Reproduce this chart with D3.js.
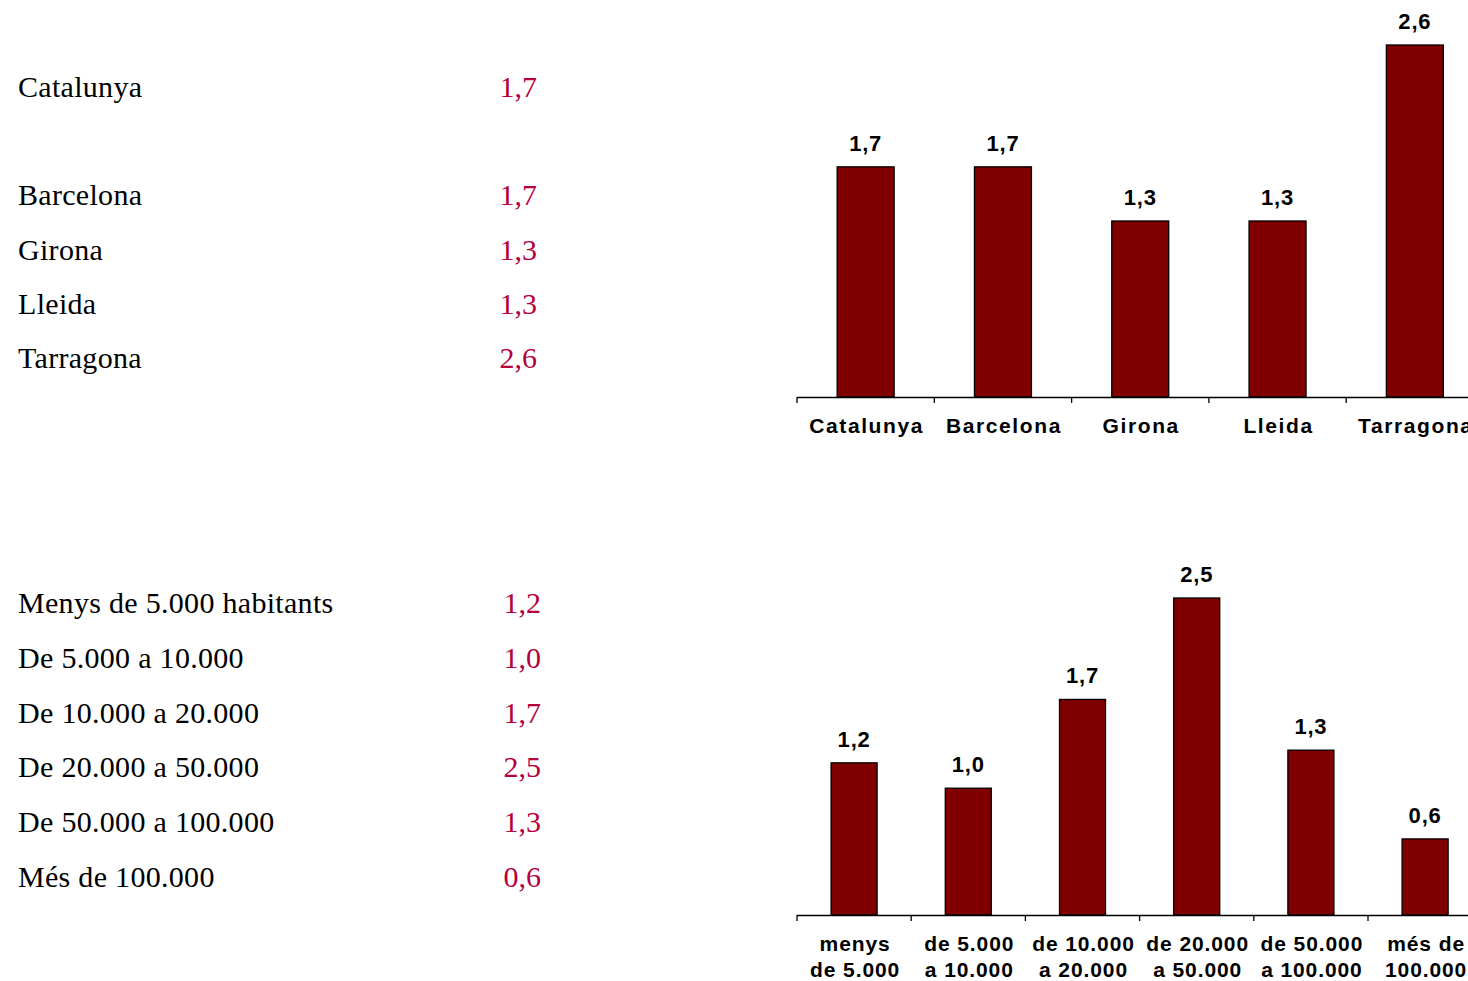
<!DOCTYPE html>
<html>
<head>
<meta charset="utf-8">
<script src="https://cdn.jsdelivr.net/npm/d3@7"></script>
<style>
  body { margin: 0; background: #fff; }
  svg { display: block; }
</style>
</head>
<body>
<svg id="chart" width="1468" height="981"></svg>
<script>
// Two province / municipality-size tables with matching bar charts.

const provinces = ["Catalunya", "Barcelona", "Girona", "Lleida", "Tarragona"];
const provinceValues = [1.7, 1.7, 1.3, 1.3, 2.6];
const provinceRows = [0, 2, 3, 4, 5]; // empty row after Catalunya

const sizeNames = [
  "Menys de 5.000 habitants", "De 5.000 a 10.000", "De 10.000 a 20.000",
  "De 20.000 a 50.000", "De 50.000 a 100.000", "Més de 100.000"
];
const sizeAxisLabels = [
  ["menys", "de 5.000"], ["de 5.000", "a 10.000"], ["de 10.000", "a 20.000"],
  ["de 20.000", "a 50.000"], ["de 50.000", "a 100.000"], ["més de", "100.000"]
];
const sizeValues = [1.2, 1.0, 1.7, 2.5, 1.3, 0.6];

const fmt = v => d3.format(".1f")(v).replace(".", ",");

const svg = d3.select("#chart");
const width = +svg.attr("width");

const barFill = "#800000";
const valueColor = "#b5003c";
const serif = "'Liberation Serif', 'Times New Roman', serif";
const sans = "'Liberation Sans', Arial, sans-serif";

function drawTable(names, values, rows, opts) {
  const y = d3.scaleLinear().domain([0, 1]).range([opts.y0, opts.y0 + opts.rowH]);
  const g = svg.append("g");
  const data = names.map((n, i) => ({ name: n, value: values[i], row: rows[i] }));

  g.selectAll(".tname")
    .data(data)
    .join("text")
    .attr("x", 18)
    .attr("y", d => y(d.row))
    .attr("font-family", serif)
    .attr("font-size", 30)
    .attr("letter-spacing", 0.3)
    .attr("fill", "#000")
    .text(d => d.name);

  g.selectAll(".tval")
    .data(data)
    .join("text")
    .attr("x", opts.valueX)
    .attr("y", d => y(d.row))
    .attr("text-anchor", "end")
    .attr("font-family", serif)
    .attr("font-size", 30)
    .attr("fill", valueColor)
    .text(d => fmt(d.value));
}

function drawBars(cats, values, labels, opts) {
  const x = d3.scaleBand()
    .domain(cats)
    .range([opts.left, opts.left + opts.step * cats.length])
    .padding(0);

  const y = d3.scaleLinear()
    .domain([0, opts.max])
    .range([opts.base, opts.top]);

  const g = svg.append("g");
  const barW = x.bandwidth() * opts.barFrac;
  const data = cats.map((c, i) => ({ cat: c, value: values[i], label: labels[i] }));

  g.selectAll(".bar")
    .data(data)
    .join("rect")
    .attr("x", d => x(d.cat) + (x.bandwidth() - barW) / 2)
    .attr("y", d => y(d.value))
    .attr("width", barW)
    .attr("height", d => y(0) - y(d.value))
    .attr("fill", barFill)
    .attr("stroke", "#000")
    .attr("stroke-width", 1.3);

  g.selectAll(".val")
    .data(data)
    .join("text")
    .attr("x", d => x(d.cat) + x.bandwidth() / 2)
    .attr("y", d => y(d.value) - 16)
    .attr("text-anchor", "middle")
    .attr("font-family", sans)
    .attr("font-weight", "bold")
    .attr("font-size", 22)
    .attr("letter-spacing", 0.8)
    .text(d => fmt(d.value));

  // baseline with ticks at the category boundaries
  g.append("line")
    .attr("x1", x.range()[0])
    .attr("x2", width)
    .attr("y1", y(0) + 0.5)
    .attr("y2", y(0) + 0.5)
    .attr("stroke", "#000")
    .attr("stroke-width", 1.3);

  g.selectAll(".tick")
    .data(cats)
    .join("line")
    .attr("x1", d => x(d))
    .attr("x2", d => x(d))
    .attr("y1", y(0))
    .attr("y2", y(0) + 6)
    .attr("stroke", "#000")
    .attr("stroke-width", 1.3);

  const lab = g.selectAll(".cat")
    .data(data)
    .join("text")
    .attr("x", d => x(d.cat) + x.bandwidth() / 2 + 1)
    .attr("y", opts.labelY)
    .attr("text-anchor", "middle")
    .attr("font-family", sans)
    .attr("font-weight", "bold")
    .attr("font-size", 21)
    .attr("letter-spacing", opts.labelSpacing);

  lab.selectAll("tspan")
    .data(d => d.label.map(t => ({ t, cx: x(d.cat) + x.bandwidth() / 2 + 1 })))
    .join("tspan")
    .attr("x", d => d.cx)
    .attr("dy", (d, i) => i === 0 ? 0 : 26)
    .text(d => d.t);
}

drawTable(provinces, provinceValues, provinceRows, { y0: 97, rowH: 54.2, valueX: 537 });
drawTable(sizeNames, sizeValues, d3.range(sizeNames.length), { y0: 613, rowH: 54.8, valueX: 541 });

drawBars(provinces, provinceValues, provinces.map(p => [p]), {
  left: 797, step: 137.3, barFrac: 0.415,
  max: 2.6, base: 397, top: 45,
  labelY: 433, labelSpacing: 1.6
});

drawBars(sizeNames, sizeValues, sizeAxisLabels, {
  left: 797, step: 114.2, barFrac: 0.403,
  max: 2.5, base: 915, top: 598,
  labelY: 951, labelSpacing: 0.9
});
</script>
</body>
</html>
